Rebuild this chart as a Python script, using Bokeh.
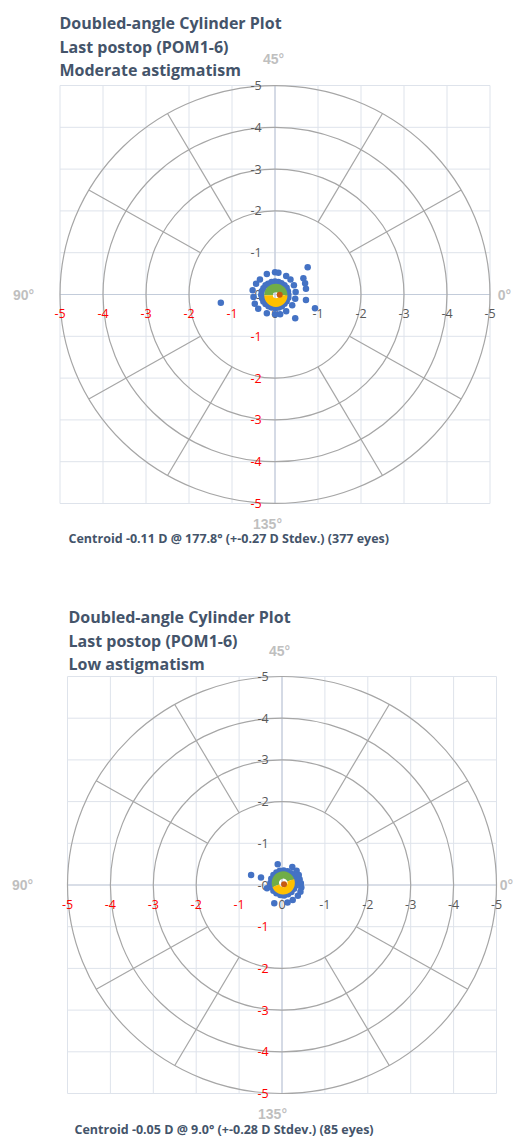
import numpy as np
from bokeh.plotting import figure
from bokeh.models import Range1d
from bokeh.layouts import column
from bokeh.embed import file_html
from bokeh.resources import INLINE
from bokeh.core.properties import value

# ---------------- shared polar grid / axis definitions ----------------
grid_values = [-5, -4, -3, -2, -1, 0, 1, 2, 3, 4, 5]
x_tick_labels = ["-5", "-4", "-3", "-2", "-1", "0", "-1", "-2", "-3", "-4", "-5"]
y_tick_labels = ["-5", "-4", "-3", "-2", "-1", "-0", "-1", "-2", "-3", "-4", "-5"]
ring_radii = [2, 3, 4, 5]
spoke_angles_deg = [30, 60, 120, 150, 210, 240, 300, 330]
spoke_inner, spoke_outer = 2, 5
direction_labels = ["45°", "135°", "90°", "0°"]  # top, bottom, left, right

# ---------------- moderate astigmatism (doubled-angle x, y in D) ----------------
mod_title = ["Doubled-angle Cylinder Plot", "Last postop (POM1-6)", "Moderate astigmatism"]
mod_eyes_x = [-1.26, 0.76, 0.66, 0.70, 0.72, 0.72, 0.93, 0.47, 0.26, 0.00, -0.19, -0.39,
              -0.47, -0.50, -0.52, -0.44, -0.35, -0.19, 0.00, 0.08, 0.26, 0.36, 0.44,
              0.48, 0.47, 0.40, 0.12]
mod_eyes_y = [-0.20, 0.65, 0.39, 0.27, 0.14, -0.13, -0.33, -0.57, -0.40, -0.47, -0.45, -0.34,
              -0.22, -0.06, 0.10, 0.26, 0.36, 0.49, 0.53, 0.52, 0.44, 0.36, 0.22,
              0.06, -0.10, -0.26, -0.47]
mod_inner_x = [0.31, 0.30, 0.27, 0.22, 0.15, 0.08, 0.00, -0.08, -0.16, -0.22, -0.27, -0.31,
               -0.32, -0.30, -0.27, -0.22, -0.15, -0.08, 0.01, 0.09, 0.16, 0.22, 0.27, 0.31]
mod_inner_y = [0.00, 0.08, 0.16, 0.22, 0.27, 0.30, 0.31, 0.30, 0.26, 0.22, 0.15, 0.08,
               -0.01, -0.09, -0.17, -0.23, -0.28, -0.31, -0.32, -0.31, -0.28, -0.22, -0.16, -0.08]
mod_band = dict(x=0.02, y=-0.02, inner=0.07, outer=0.27, split=0)
mod_centroid = dict(mag=0.11, axis=177.8, sd=0.27, n=377)

# ---------------- low astigmatism ----------------
low_title = ["Doubled-angle Cylinder Plot", "Last postop (POM1-6)", "Low astigmatism"]
low_eyes_x = [-0.72, -0.49, -0.10, 0.24, 0.34, 0.39, 0.41, 0.44, 0.45, 0.43, 0.37, 0.25,
              0.13, -0.18, -0.35]
low_eyes_y = [0.24, 0.18, 0.50, 0.43, 0.34, 0.24, 0.14, 0.04, -0.06, -0.16, -0.26, -0.36,
              -0.42, -0.44, -0.08]
low_inner_x = [0.33, 0.31, 0.27, 0.21, 0.13, 0.04, -0.05, -0.13, -0.20, -0.25, -0.27,
               -0.25, -0.20, -0.13, -0.04, 0.05, 0.14, 0.22, 0.28, 0.32]
low_inner_y = [0.05, 0.14, 0.22, 0.28, 0.33, 0.35, 0.34, 0.30, 0.24, 0.15, 0.05,
               -0.05, -0.14, -0.20, -0.24, -0.25, -0.22, -0.17, -0.09, -0.01]
low_band = dict(x=0.03, y=0.05, inner=0.10, outer=0.27, split=20)
low_centroid = dict(mag=0.05, axis=9.0, sd=0.28, n=85)

# ---------------- styling ----------------
W, H = 515, 573
GRID_C = "#DEE3EB"
AXIS_C = "#C3CCDA"
RING_C = "#A6A6A6"
BLUE = "#4472C4"
GREEN = "#70AD47"
YELLOW = "#FFC000"
BROWN = "#C55A11"
DARK = "#595959"
RED = "#FF0000"
TITLE_C = "#44546A"
DIR_C = "#BFBFBF"
FONT = value("Open Sans")

panels = [
    dict(title=mod_title, ex=mod_eyes_x, ey=mod_eyes_y, ix=mod_inner_x, iy=mod_inner_y,
         band=mod_band, cen=mod_centroid,
         cx=274.5, cy=294.0, sx=43.0, sy=41.8,
         title_pos=(59, [22, 46, 69]), cen_pos=(68, 538),
         dir_pos=[(273, 58.5), (267, 523), (23, 294), (504, 294)]),
    dict(title=low_title, ex=low_eyes_x, ey=low_eyes_y, ix=low_inner_x, iy=low_inner_y,
         band=low_band, cen=low_centroid,
         cx=281.5, cy=311.5, sx=42.9, sy=41.7,
         title_pos=(68, [43, 67, 90]), cen_pos=(74, 555.5),
         dir_pos=[(279, 77), (272, 540), (22, 311.5), (506, 311.5)]),
]


def make_panel(cfg):
    cx, cy, sx, sy = cfg["cx"], cfg["cy"], cfg["sx"], cfg["sy"]

    def to_data(px, py):
        return (px - cx) / sx, (cy - py) / sy

    p = figure(width=W, height=H, output_backend="svg", toolbar_location=None,
               x_range=Range1d((0 - cx) / sx, (W - cx) / sx),
               y_range=Range1d((cy - H) / sy, cy / sy),
               x_axis_type=None, y_axis_type=None, min_border=0,
               outline_line_color=None, background_fill_color="white",
               border_fill_color="white")

    g0, g1 = min(grid_values), max(grid_values)
    n = len(grid_values)
    # rectangular gridlines
    p.segment(x0=grid_values, y0=[g0] * n, x1=grid_values, y1=[g1] * n,
              line_color=GRID_C, line_width=1)
    p.segment(x0=[g0] * n, y0=grid_values, x1=[g1] * n, y1=grid_values,
              line_color=GRID_C, line_width=1)
    # central axes
    p.segment(x0=[0, g0], y0=[g0, 0], x1=[0, g1], y1=[g1, 0], line_color=AXIS_C, line_width=1.2)

    # polar rings and spokes
    p.ellipse(x=[0] * len(ring_radii), y=[0] * len(ring_radii),
              width=[2 * r for r in ring_radii], height=[2 * r for r in ring_radii],
              fill_color=None, line_color=RING_C, line_width=1.2)
    a = np.radians(spoke_angles_deg)
    p.segment(x0=spoke_inner * np.cos(a), y0=spoke_inner * np.sin(a),
              x1=spoke_outer * np.cos(a), y1=spoke_outer * np.sin(a),
              line_color=RING_C, line_width=1.2)

    # tick labels along the axes
    colors = [RED if v < 0 else DARK for v in grid_values]
    p.text(x=grid_values, y=[0] * n, text=x_tick_labels, text_color=colors,
           y_offset=19, text_align="center", text_baseline="middle",
           text_font=FONT, text_font_size="12.5px")
    p.text(x=[0] * n, y=grid_values, text=y_tick_labels, text_color=colors,
           x_offset=-19, text_align="center", text_baseline="middle",
           text_font=FONT, text_font_size="12.5px")

    # direction labels
    dx, dy = zip(*[to_data(*xy) for xy in cfg["dir_pos"]])
    p.text(x=list(dx), y=list(dy), text=direction_labels, text_color=DIR_C,
           text_align="center", text_baseline="middle", text_font=value("Liberation Sans"),
           text_font_style="bold", text_font_size="14px")

    # eyes
    p.scatter(cfg["ix"], cfg["iy"], size=6.5, fill_color=BLUE, line_color=None)
    p.scatter(cfg["ex"], cfg["ey"], size=6.5, fill_color=BLUE, line_color=None)

    # central band (upper / lower halves)
    b = cfg["band"]
    s = np.radians(b["split"])
    p.annular_wedge(x=b["x"], y=b["y"], inner_radius=b["inner"], outer_radius=b["outer"],
                    start_angle=s, end_angle=s + np.pi, fill_color=GREEN, line_color=None)
    p.annular_wedge(x=b["x"], y=b["y"], inner_radius=b["inner"], outer_radius=b["outer"],
                    start_angle=s + np.pi, end_angle=s + 2 * np.pi, fill_color=YELLOW,
                    line_color=None)

    # centroid
    c = cfg["cen"]
    ang = np.radians(2 * c["axis"])
    p.scatter([c["mag"] * np.cos(ang)], [c["mag"] * np.sin(ang)], size=6,
              fill_color=BROWN, line_color=None)

    # title
    tx, tys = cfg["title_pos"]
    pts = [to_data(tx, ty) for ty in tys]
    p.text(x=[q[0] for q in pts], y=[q[1] for q in pts], text=cfg["title"],
           text_color=TITLE_C, text_align="left", text_baseline="middle",
           text_font=FONT, text_font_style="bold", text_font_size="16px")

    # centroid caption
    cap = (f"Centroid -{c['mag']:.2f} D @ {c['axis']:.1f}° "
           f"(+-{c['sd']:.2f} D Stdev.) ({c['n']} eyes)")
    qx, qy = to_data(*cfg["cen_pos"])
    p.text(x=[qx], y=[qy], text=[cap], text_color=TITLE_C, text_align="left",
           text_baseline="middle", text_font=FONT, text_font_style="bold",
           text_font_size="12.5px")
    return p


layout = column(*[make_panel(cfg) for cfg in panels], spacing=0)
open("out.html", "w").write(file_html(layout, INLINE))
